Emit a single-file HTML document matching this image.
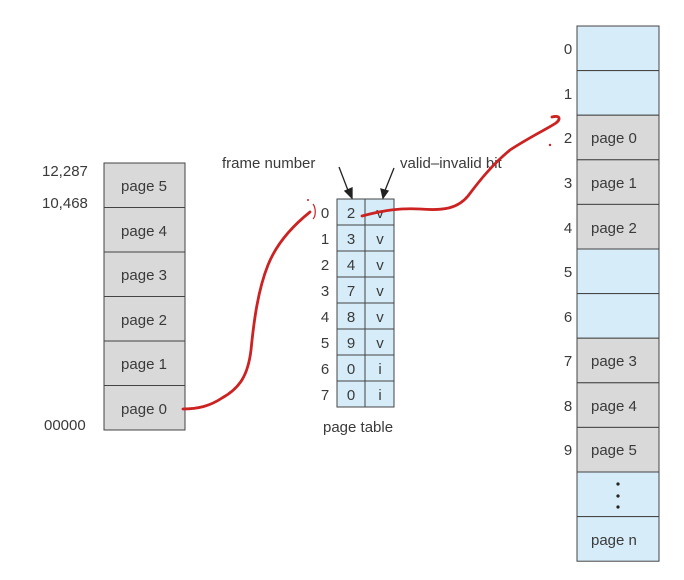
<!DOCTYPE html>
<html><head><meta charset="utf-8"><style>
html,body{margin:0;padding:0;background:#fff;}
svg{display:block;font-family:"Liberation Sans",sans-serif;}
</style></head><body>
<svg width="684" height="580" viewBox="0 0 684 580" xmlns="http://www.w3.org/2000/svg">
<g font-size="15" fill="#3a3a3a">
<!-- logical memory -->
<g stroke="#444" stroke-width="1">
<rect x="104" y="163" width="81" height="44.5" fill="#d9d9d9"/>
<rect x="104" y="207.5" width="81" height="44.5" fill="#d9d9d9"/>
<rect x="104" y="252" width="81" height="44.5" fill="#d9d9d9"/>
<rect x="104" y="296.5" width="81" height="44.5" fill="#d9d9d9"/>
<rect x="104" y="341" width="81" height="44.5" fill="#d9d9d9"/>
<rect x="104" y="385.5" width="81" height="44.5" fill="#d9d9d9"/>
</g>
<g text-anchor="middle">
<text x="144" y="191">page 5</text>
<text x="144" y="236">page 4</text>
<text x="144" y="280">page 3</text>
<text x="144" y="325">page 2</text>
<text x="144" y="369">page 1</text>
<text x="144" y="414">page 0</text>
</g>
<text x="42" y="176">12,287</text>
<text x="42" y="208">10,468</text>
<text x="44" y="430">00000</text>

<!-- page table -->
<g stroke="#444" stroke-width="1" fill="#d6ecf8">
<rect x="337" y="199" width="28" height="26"/><rect x="365" y="199" width="29" height="26"/>
<rect x="337" y="225" width="28" height="26"/><rect x="365" y="225" width="29" height="26"/>
<rect x="337" y="251" width="28" height="26"/><rect x="365" y="251" width="29" height="26"/>
<rect x="337" y="277" width="28" height="26"/><rect x="365" y="277" width="29" height="26"/>
<rect x="337" y="303" width="28" height="26"/><rect x="365" y="303" width="29" height="26"/>
<rect x="337" y="329" width="28" height="26"/><rect x="365" y="329" width="29" height="26"/>
<rect x="337" y="355" width="28" height="26"/><rect x="365" y="355" width="29" height="26"/>
<rect x="337" y="381" width="28" height="26"/><rect x="365" y="381" width="29" height="26"/>
</g>
<g text-anchor="middle">
<text x="351" y="218">2</text><text x="380" y="218">v</text>
<text x="351" y="244">3</text><text x="380" y="244">v</text>
<text x="351" y="270">4</text><text x="380" y="270">v</text>
<text x="351" y="296">7</text><text x="380" y="296">v</text>
<text x="351" y="322">8</text><text x="380" y="322">v</text>
<text x="351" y="348">9</text><text x="380" y="348">v</text>
<text x="351" y="374">0</text><text x="380" y="374">i</text>
<text x="351" y="400">0</text><text x="380" y="400">i</text>
</g>
<g text-anchor="middle">
<text x="325" y="218">0</text><text x="325" y="244">1</text><text x="325" y="270">2</text>
<text x="325" y="296">3</text><text x="325" y="322">4</text><text x="325" y="348">5</text>
<text x="325" y="374">6</text><text x="325" y="400">7</text>
</g>
<text x="323" y="432">page table</text>
<text x="222" y="168">frame number</text>
<text x="400" y="168">valid–invalid bit</text>
<g stroke="#222" stroke-width="1.3" fill="#222">
<line x1="339" y1="167" x2="349" y2="193"/>
<polygon points="345,191 352,198 352,188"/>
<line x1="394" y1="168" x2="384" y2="193"/>
<polygon points="381,189 383,198 388,191"/>
</g>

<!-- physical memory -->
<g stroke="#444" stroke-width="1">
<rect x="577" y="26" width="82" height="44.6" fill="#d6ecf8"/>
<rect x="577" y="70.6" width="82" height="44.6" fill="#d6ecf8"/>
<rect x="577" y="115.2" width="82" height="44.6" fill="#d9d9d9"/>
<rect x="577" y="159.8" width="82" height="44.6" fill="#d9d9d9"/>
<rect x="577" y="204.4" width="82" height="44.6" fill="#d9d9d9"/>
<rect x="577" y="249" width="82" height="44.6" fill="#d6ecf8"/>
<rect x="577" y="293.6" width="82" height="44.6" fill="#d6ecf8"/>
<rect x="577" y="338.2" width="82" height="44.6" fill="#d9d9d9"/>
<rect x="577" y="382.8" width="82" height="44.6" fill="#d9d9d9"/>
<rect x="577" y="427.4" width="82" height="44.6" fill="#d9d9d9"/>
<rect x="577" y="472" width="82" height="44.6" fill="#d6ecf8"/>
<rect x="577" y="516.6" width="82" height="44.6" fill="#d6ecf8"/>
</g>
<g text-anchor="middle">
<text x="568" y="54">0</text><text x="568" y="99">1</text><text x="568" y="143">2</text>
<text x="568" y="188">3</text><text x="568" y="233">4</text><text x="568" y="277">5</text>
<text x="568" y="322">6</text><text x="568" y="366">7</text><text x="568" y="411">8</text>
<text x="568" y="455">9</text>
</g>
<text x="591" y="143">page 0</text>
<text x="591" y="188">page 1</text>
<text x="591" y="233">page 2</text>
<text x="591" y="366">page 3</text>
<text x="591" y="411">page 4</text>
<text x="591" y="455">page 5</text>
<text x="591" y="545">page  n</text>
<circle cx="618" cy="484" r="1.6" fill="#222"/>
<circle cx="618" cy="496" r="1.6" fill="#222"/>
<circle cx="618" cy="507" r="1.6" fill="#222"/>
</g>

<!-- red annotations -->
<g stroke="#cc2222" stroke-width="2.8" fill="none" stroke-linecap="round">
<path d="M183,409 C198,409 210,406 222,398 C240,388 248,375 251,350 C254,320 258,290 268,265 C276,245 290,228 310,212"/>
<path d="M362,216 C385,210 400,208 420,209 C445,211 458,208 468,196 C480,180 492,165 510,150 C530,137 545,130 556,123 C561,119 560,115 552,117"/>
</g>
<g stroke="#cc2222" stroke-width="1.2" fill="none">
<path d="M313,204 C316,208 316,216 313,219"/>
</g>
<circle cx="308" cy="200" r="1" fill="#cc2222"/>
<circle cx="550" cy="145" r="1.2" fill="#cc2222"/>
</svg>
</body></html>
